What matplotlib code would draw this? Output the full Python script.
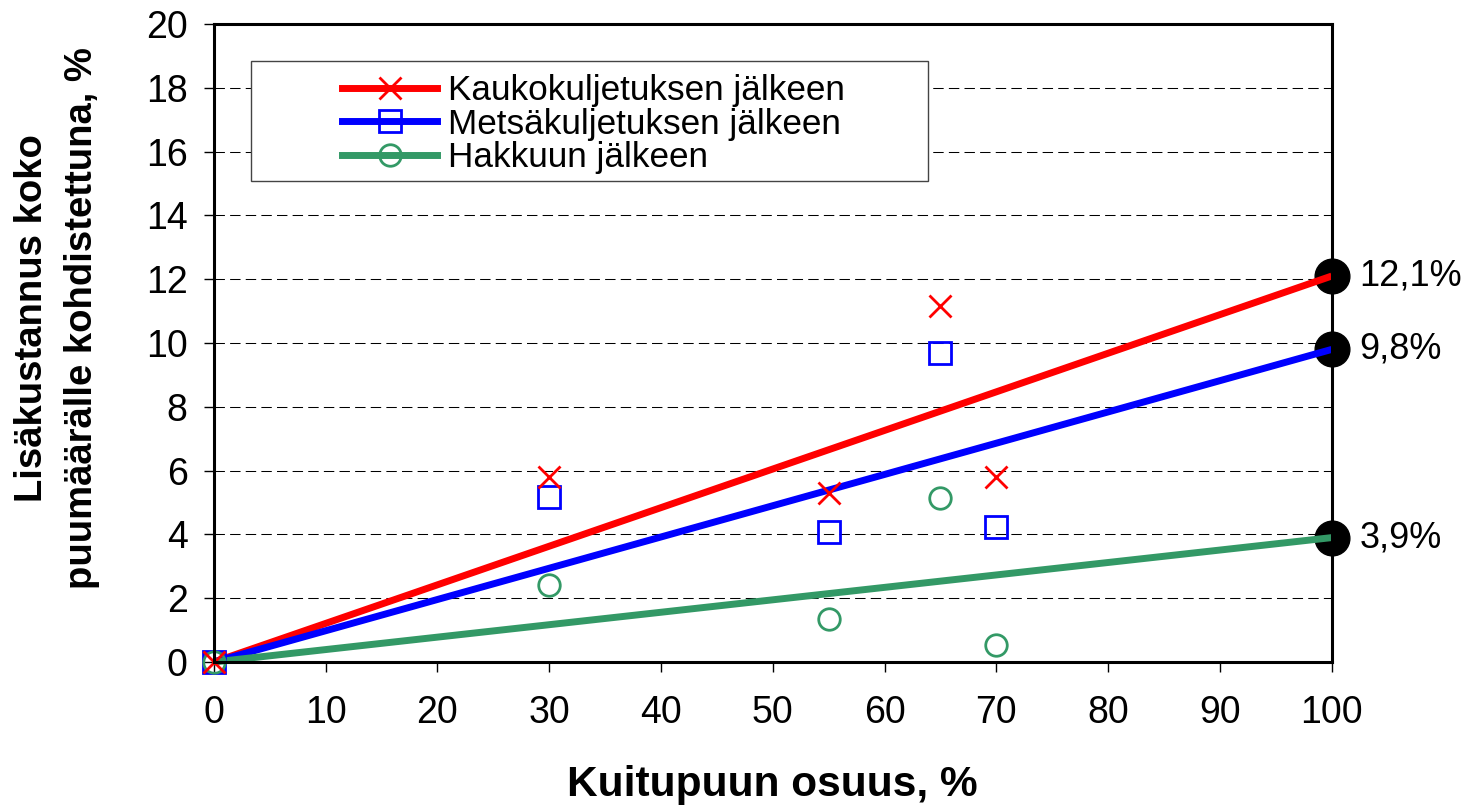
import numpy as np
from matplotlib import pyplot as plt
from matplotlib.lines import Line2D
from matplotlib.patches import Rectangle

plt.rcParams['font.family'] = ['Liberation Sans', 'DejaVu Sans']

# data
fiberShare = [0, 30, 55, 65, 70]
afterLongHaul = [0, 5.8, 5.3, 11.15, 5.8]
afterForwarding = [0, 5.18, 4.09, 9.69, 4.22]
afterHarvest = [0, 2.41, 1.36, 5.15, 0.52]

trendX = [0, 100]
trendEnd = [12.1, 9.8, 3.9]
trendLabels = ['12,1%', '9,8%', '3,9%']

seriesNames = ['Kaukokuljetuksen jälkeen', 'Metsäkuljetuksen jälkeen', 'Hakkuun jälkeen']
colors = ['#FF0000', '#0000FF', '#339966']

fig = plt.figure(figsize=(14.65, 8.1), dpi=100)
ax = fig.add_axes([0.146, 0.1827, 0.763, 0.7876])

ax.set_xlim(0, 100)
ax.set_ylim(0, 20)
ax.set_xticks(np.arange(0, 101, 10))
ax.set_yticks(np.arange(0, 21, 2))

# horizontal dashed grid
for yv in np.arange(2, 20, 2):
    ax.axhline(yv, color='black', lw=0.75, dashes=(10, 5), zorder=1)

# black end circles (under the lines)
ax.plot([trendX[1]] * 3, trendEnd, 'o', color='black', ms=25, zorder=2, clip_on=False)

# trend lines
for endVal, col in zip(trendEnd, colors):
    ax.plot(trendX, [0, endVal], color=col, lw=5, zorder=3, solid_capstyle='butt', clip_on=False)

# observed points
ax.plot(fiberShare, afterForwarding, 's', ms=15.5, mfc='none', mec=colors[1], mew=2, zorder=4, clip_on=False)
ax.plot(fiberShare, afterHarvest, 'o', ms=15.5, mfc='none', mec=colors[2], mew=2, zorder=5, clip_on=False)
ax.plot(fiberShare, afterLongHaul, 'x', ms=15.5, mec=colors[0], mew=2, zorder=6, clip_on=False)

for endVal, lab in zip(trendEnd, trendLabels):
    ax.annotate(lab, (100, endVal), xytext=(20, 0), textcoords='offset points',
                ha='left', va='center', fontsize=26, annotation_clip=False)

for side in ['left', 'right', 'top', 'bottom']:
    ax.spines[side].set_linewidth(2.2)
    ax.spines[side].set_zorder(7)

ax.tick_params(axis='both', labelsize=27, width=1, length=7, direction='out')
ax.tick_params(axis='x', pad=17)
ax.tick_params(axis='y', pad=12)

ax.set_xlabel('Kuitupuun osuus, %', fontsize=30.5, fontweight='bold', labelpad=24)
fig.text(0.039, 0.607, 'Lisäkustannus koko\npuumäärälle kohdistettuna, %', rotation=90,
         ha='center', va='center', fontsize=27.5, fontweight='bold', linespacing=1.5)

# legend frame + entries
ax.add_patch(Rectangle((0.0331, 0.754), 0.6055, 0.188, transform=ax.transAxes,
                       facecolor='white', edgecolor='#444444', lw=1, zorder=8))
handles = [
    Line2D([], [], color=colors[0], lw=5, marker='x', ms=15.5, mew=2),
    Line2D([], [], color=colors[1], lw=5, marker='s', ms=15.5, mew=2, mfc='none'),
    Line2D([], [], color=colors[2], lw=5, marker='o', ms=15.5, mew=2, mfc='none'),
]
leg = ax.legend(handles, seriesNames, loc='upper left', bbox_to_anchor=(0.115, 0.922),
                frameon=False, fontsize=25.3, handlelength=2.7, handletextpad=0.3,
                labelspacing=0.02, borderpad=0, borderaxespad=0)
leg.set_zorder(9)

plt.savefig('out.png', dpi=100)
